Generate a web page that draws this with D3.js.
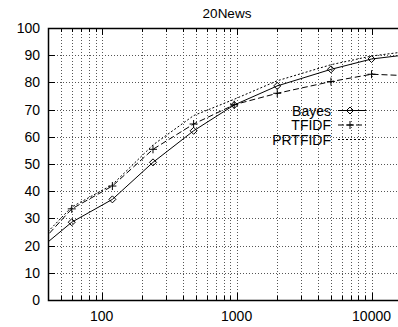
<!DOCTYPE html>
<html>
<head>
<meta charset="utf-8">
<script src="https://cdn.jsdelivr.net/npm/d3@7"></script>
<style>
  body { margin: 0; background: #fff; }
  svg { display: block; font-family: "Liberation Sans", Arial, sans-serif; }
</style>
</head>
<body>
<svg width="398" height="327"></svg>
<script>
// training set sizes (x) and accuracy per method (y)
const sizes = [30, 60, 120, 240, 480, 960, 2000, 5000, 10000, 20000];
const bayes = [16.2, 28.6, 37.0, 50.6, 62.2, 71.7, 78.7, 84.8, 88.6, 90.4];
const tfidf = [17.2, 33.5, 41.9, 55.4, 64.7, 71.8, 76.0, 80.3, 83.0, 82.4];
const prtfidf = [18.7, 34.2, 42.4, 57.0, 67.8, 73.8, 80.6, 86.5, 89.7, 91.6];

const seriesNames = ['Bayes', 'TFIDF', 'PRTFIDF'];
const yTicks = [0, 10, 20, 30, 40, 50, 60, 70, 80, 90, 100];
const xMajor = [100, 1000, 10000];
const title = '20News';

const svg = d3.select('svg');
const plotL = 48, plotR = 406, plotT = 28, plotB = 300;

const x = d3.scaleLog().domain([40, 18000]).range([plotL, plotR]);
const y = d3.scaleLinear().domain([0, 100]).range([plotB, plotT]);

const px = (v) => Math.round(v) + 0.5;

// minor ticks for each decade in view
const xMinor = [];
[10, 100, 1000, 10000].forEach((d) => {
  for (let k = 1; k < 10; k++) {
    const v = d * k;
    if (v >= 40 && v <= 18000) xMinor.push(v);
  }
});

// grid
const grid = svg.append('g')
  .attr('stroke', '#555')
  .attr('stroke-width', 1)
  .attr('stroke-dasharray', '1,2');

grid.selectAll('.gx').data(xMinor).enter()
  .append('line')
  .attr('x1', (d) => px(x(d))).attr('x2', (d) => px(x(d)))
  .attr('y1', plotT).attr('y2', plotB);

grid.selectAll('.gy').data(yTicks.slice(1, -1)).enter()
  .append('line')
  .attr('x1', plotL).attr('x2', plotR)
  .attr('y1', (d) => px(y(d))).attr('y2', (d) => px(y(d)));

// ticks (inward, gnuplot style)
const ticks = svg.append('g').attr('stroke', '#000').attr('stroke-width', 1);
xMinor.forEach((d) => {
  const major = xMajor.indexOf(d) >= 0;
  const len = major ? 7 : 4;
  ticks.append('line').attr('x1', px(x(d))).attr('x2', px(x(d)))
    .attr('y1', plotB).attr('y2', plotB - len);
  ticks.append('line').attr('x1', px(x(d))).attr('x2', px(x(d)))
    .attr('y1', plotT).attr('y2', plotT + len);
});
yTicks.forEach((d) => {
  ticks.append('line').attr('x1', plotL).attr('x2', plotL + 7)
    .attr('y1', px(y(d))).attr('y2', px(y(d)));
});

// border
svg.append('path')
  .attr('d', `M${plotR},${plotT + 0.5}H${plotL + 0.5}V${plotB + 0.5}H${plotR}`)
  .attr('fill', 'none')
  .attr('stroke', '#000')
  .attr('stroke-width', 1.5);

// tick labels
svg.append('g').selectAll('text').data(yTicks).enter()
  .append('text')
  .attr('x', 40)
  .attr('y', (d) => y(d))
  .attr('dy', '0.36em')
  .attr('text-anchor', 'end')
  .attr('font-size', 14)
  .text((d) => d);

svg.append('g').selectAll('text').data(xMajor).enter()
  .append('text')
  .attr('x', (d) => x(d))
  .attr('y', 321)
  .attr('text-anchor', 'middle')
  .attr('font-size', 14)
  .text((d) => d);

svg.append('text')
  .attr('x', 227).attr('y', 17.5)
  .attr('text-anchor', 'middle')
  .attr('font-size', 13.5)
  .text(title);

// series
svg.append('clipPath').attr('id', 'clip')
  .append('rect').attr('x', plotL).attr('y', plotT)
  .attr('width', plotR - plotL).attr('height', plotB - plotT);

const plot = svg.append('g').attr('clip-path', 'url(#clip)');

const series = [
  { name: seriesNames[0], values: bayes, dash: null, marker: 'diamond' },
  { name: seriesNames[1], values: tfidf, dash: '6,3', marker: 'plus' },
  { name: seriesNames[2], values: prtfidf, dash: '2,2', marker: null }
];

const line = d3.line()
  .x((d) => x(d[0]))
  .y((d) => y(d[1]));

function drawMarker(g, type, cx, cy) {
  if (type === 'diamond') {
    g.append('path')
      .attr('d', `M${cx},${cy - 3.5}L${cx + 3.5},${cy}L${cx},${cy + 3.5}L${cx - 3.5},${cy}Z`)
      .attr('fill', 'none').attr('stroke', '#000').attr('stroke-width', 1);
  } else if (type === 'plus') {
    g.append('path')
      .attr('d', `M${cx - 4},${cy}H${cx + 4}M${cx},${cy - 4}V${cy + 4}`)
      .attr('fill', 'none').attr('stroke', '#000').attr('stroke-width', 1);
  }
}

series.forEach((s) => {
  const pts = sizes.map((d, i) => [d, s.values[i]]);
  plot.append('path')
    .datum(pts)
    .attr('d', line)
    .attr('fill', 'none')
    .attr('stroke', '#000')
    .attr('stroke-width', 1)
    .attr('stroke-dasharray', s.dash);
  pts.forEach((p) => drawMarker(plot, s.marker, x(p[0]), y(p[1])));
});

// legend
const legend = svg.append('g');
series.forEach((s, i) => {
  const ly = 110.5 + i * 14.5;
  legend.append('text')
    .attr('x', 331).attr('y', ly)
    .attr('dy', '0.36em')
    .attr('text-anchor', 'end')
    .attr('font-size', 14)
    .text(s.name);
  legend.append('line')
    .attr('x1', 338).attr('x2', 366)
    .attr('y1', ly).attr('y2', ly)
    .attr('stroke', '#000')
    .attr('stroke-width', 1)
    .attr('stroke-dasharray', s.dash);
  drawMarker(legend, s.marker, 350, ly);
});
</script>
</body>
</html>
